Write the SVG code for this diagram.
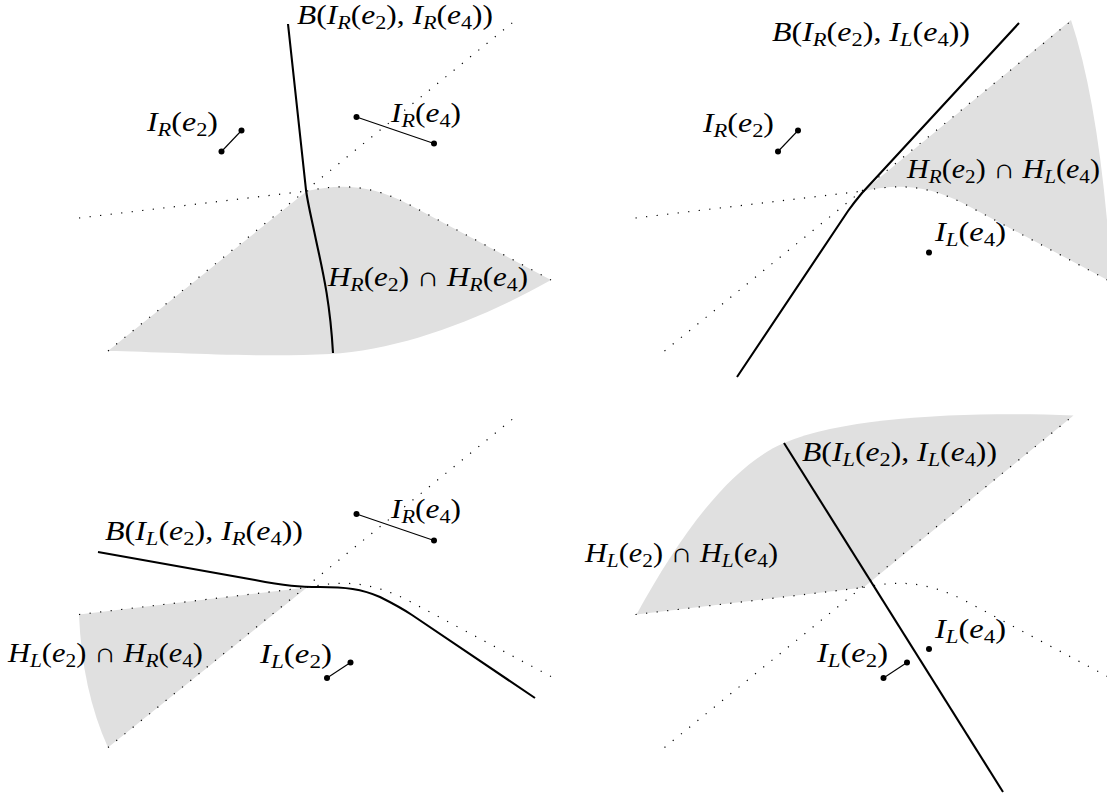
<svg xmlns="http://www.w3.org/2000/svg" xmlns:xlink="http://www.w3.org/1999/xlink" width="1107" height="797" viewBox="0 0 1107 797">
<style>
.fill{fill:#e0e0e0;stroke:none}
.dot{fill:none;stroke:#000;stroke-width:1.2;stroke-dasharray:1.2 9.4}
.thick{fill:none;stroke:#000;stroke-width:2.1;stroke-linejoin:round}
.seg{stroke:#000;stroke-width:1.1}
.pt{fill:#000}
.t{font-family:"Liberation Serif","DejaVu Serif",serif;font-size:27px;fill:#000}
.i{font-style:italic}
.s{font-size:19px}
</style>
<defs>
<g id="skel">
<path class="dot" d="M79,218 L307,191"/>
<path class="dot" d="M108,351 L517,19"/>
<path class="dot" d="M307,191 C340,184 370,184 410,205 L551,280"/>
</g>
</defs>

<g id="panel-rr">
<path class="fill" d="M108,351 L307,191 C340,184 370,184 410,205 L551,280 C480,320 400,350 330,354 C260,358 170,352 108,351 Z"/>
<use xlink:href="#skel"/>
<path class="thick" d="M288,24 L306,190 C308,205 312,220 316,240 C322,268 330,300 333,353"/>
<line class="seg" x1="221.5" y1="151.5" x2="241.5" y2="130.5"/>
<circle class="pt" cx="221.5" cy="151.5" r="3"/><circle class="pt" cx="241.5" cy="130.5" r="3"/>
<line class="seg" x1="356.5" y1="117" x2="434" y2="143.5"/>
<circle class="pt" cx="356.5" cy="117" r="3"/><circle class="pt" cx="434" cy="143.5" r="3"/>
<text class="t" x="297" y="24" textLength="196" lengthAdjust="spacingAndGlyphs"><tspan class="i">B</tspan>(<tspan class="i">I</tspan><tspan class="i s" dy="5">R</tspan><tspan dy="-5">(</tspan><tspan class="i">e</tspan><tspan class="s" dy="5">2</tspan><tspan dy="-5">), </tspan><tspan class="i">I</tspan><tspan class="i s" dy="5">R</tspan><tspan dy="-5">(</tspan><tspan class="i">e</tspan><tspan class="s" dy="5">4</tspan><tspan dy="-5">))</tspan></text>
<text class="t" x="147" y="131" textLength="71" lengthAdjust="spacingAndGlyphs"><tspan class="i">I</tspan><tspan class="i s" dy="5">R</tspan><tspan dy="-5">(</tspan><tspan class="i">e</tspan><tspan class="s" dy="5">2</tspan><tspan dy="-5">)</tspan></text>
<text class="t" x="391" y="122" textLength="70" lengthAdjust="spacingAndGlyphs"><tspan class="i">I</tspan><tspan class="i s" dy="5">R</tspan><tspan dy="-5">(</tspan><tspan class="i">e</tspan><tspan class="s" dy="5">4</tspan><tspan dy="-5">)</tspan></text>
<text class="t" x="328" y="286" textLength="200" lengthAdjust="spacingAndGlyphs"><tspan class="i">H</tspan><tspan class="i s" dy="5">R</tspan><tspan dy="-5">(</tspan><tspan class="i">e</tspan><tspan class="s" dy="5">2</tspan><tspan dy="-5">) ∩ </tspan><tspan class="i">H</tspan><tspan class="i s" dy="5">R</tspan><tspan dy="-5">(</tspan><tspan class="i">e</tspan><tspan class="s" dy="5">4</tspan><tspan dy="-5">)</tspan></text>
</g>

<g id="panel-rl">
<path class="fill" d="M863.5,191 L1071,20 Q1101,110 1112,285 L1107.5,280 L966.5,205 C926.5,184 896.5,184 863.5,191 Z"/>
<use xlink:href="#skel" transform="translate(556.5,0)"/>
<path class="thick" d="M1019,23 L862,193 C857,199 853,204 848,211 L737,377"/>
<line class="seg" x1="778" y1="151.5" x2="798" y2="130.5"/>
<circle class="pt" cx="778" cy="151.5" r="3"/><circle class="pt" cx="798" cy="130.5" r="3"/>
<circle class="pt" cx="929" cy="252.5" r="3"/>
<text class="t" x="772" y="41" textLength="198" lengthAdjust="spacingAndGlyphs"><tspan class="i">B</tspan>(<tspan class="i">I</tspan><tspan class="i s" dy="5">R</tspan><tspan dy="-5">(</tspan><tspan class="i">e</tspan><tspan class="s" dy="5">2</tspan><tspan dy="-5">), </tspan><tspan class="i">I</tspan><tspan class="i s" dy="5">L</tspan><tspan dy="-5">(</tspan><tspan class="i">e</tspan><tspan class="s" dy="5">4</tspan><tspan dy="-5">))</tspan></text>
<text class="t" x="703" y="132" textLength="71" lengthAdjust="spacingAndGlyphs"><tspan class="i">I</tspan><tspan class="i s" dy="5">R</tspan><tspan dy="-5">(</tspan><tspan class="i">e</tspan><tspan class="s" dy="5">2</tspan><tspan dy="-5">)</tspan></text>
<text class="t" x="907" y="178" textLength="193" lengthAdjust="spacingAndGlyphs"><tspan class="i">H</tspan><tspan class="i s" dy="5">R</tspan><tspan dy="-5">(</tspan><tspan class="i">e</tspan><tspan class="s" dy="5">2</tspan><tspan dy="-5">) ∩ </tspan><tspan class="i">H</tspan><tspan class="i s" dy="5">L</tspan><tspan dy="-5">(</tspan><tspan class="i">e</tspan><tspan class="s" dy="5">4</tspan><tspan dy="-5">)</tspan></text>
<text class="t" x="935" y="241" textLength="71" lengthAdjust="spacingAndGlyphs"><tspan class="i">I</tspan><tspan class="i s" dy="5">L</tspan><tspan dy="-5">(</tspan><tspan class="i">e</tspan><tspan class="s" dy="5">4</tspan><tspan dy="-5">)</tspan></text>
</g>

<g id="panel-lr">
<path class="fill" d="M79,614.5 L307,587.5 L108,747.5 Q82,690 79,614.5 Z"/>
<use xlink:href="#skel" transform="translate(0,396.5)"/>
<path class="thick" d="M98,552 L255,580 C285,586 300,587 320,587 C345,587 362,589 380,597 C392,603 400,607 412,615 L535,698"/>
<line class="seg" x1="356.5" y1="514" x2="434" y2="540.5"/>
<circle class="pt" cx="356.5" cy="514" r="3"/><circle class="pt" cx="434" cy="540.5" r="3"/>
<line class="seg" x1="327" y1="678" x2="350.5" y2="662.5"/>
<circle class="pt" cx="327" cy="678" r="3"/><circle class="pt" cx="350.5" cy="662.5" r="3"/>
<text class="t" x="105" y="540" textLength="198" lengthAdjust="spacingAndGlyphs"><tspan class="i">B</tspan>(<tspan class="i">I</tspan><tspan class="i s" dy="5">L</tspan><tspan dy="-5">(</tspan><tspan class="i">e</tspan><tspan class="s" dy="5">2</tspan><tspan dy="-5">), </tspan><tspan class="i">I</tspan><tspan class="i s" dy="5">R</tspan><tspan dy="-5">(</tspan><tspan class="i">e</tspan><tspan class="s" dy="5">4</tspan><tspan dy="-5">))</tspan></text>
<text class="t" x="391" y="518" textLength="70" lengthAdjust="spacingAndGlyphs"><tspan class="i">I</tspan><tspan class="i s" dy="5">R</tspan><tspan dy="-5">(</tspan><tspan class="i">e</tspan><tspan class="s" dy="5">4</tspan><tspan dy="-5">)</tspan></text>
<text class="t" x="8" y="662" textLength="195" lengthAdjust="spacingAndGlyphs"><tspan class="i">H</tspan><tspan class="i s" dy="5">L</tspan><tspan dy="-5">(</tspan><tspan class="i">e</tspan><tspan class="s" dy="5">2</tspan><tspan dy="-5">) ∩ </tspan><tspan class="i">H</tspan><tspan class="i s" dy="5">R</tspan><tspan dy="-5">(</tspan><tspan class="i">e</tspan><tspan class="s" dy="5">4</tspan><tspan dy="-5">)</tspan></text>
<text class="t" x="260" y="663" textLength="72" lengthAdjust="spacingAndGlyphs"><tspan class="i">I</tspan><tspan class="i s" dy="5">L</tspan><tspan dy="-5">(</tspan><tspan class="i">e</tspan><tspan class="s" dy="5">2</tspan><tspan dy="-5">)</tspan></text>
</g>

<g id="panel-ll">
<path class="fill" d="M636.5,614.5 L863.5,587.5 L1073.5,415.5 C980,412 850,415 784,443 C730,466 680,535 636.5,614.5 Z"/>
<use xlink:href="#skel" transform="translate(556.5,396.5)"/>
<path class="thick" d="M784,443 L1003,792"/>
<line class="seg" x1="883.5" y1="678" x2="907" y2="662.5"/>
<circle class="pt" cx="883.5" cy="678" r="3"/><circle class="pt" cx="907" cy="662.5" r="3"/>
<circle class="pt" cx="929" cy="649" r="3"/>
<text class="t" x="802" y="461" textLength="195" lengthAdjust="spacingAndGlyphs"><tspan class="i">B</tspan>(<tspan class="i">I</tspan><tspan class="i s" dy="5">L</tspan><tspan dy="-5">(</tspan><tspan class="i">e</tspan><tspan class="s" dy="5">2</tspan><tspan dy="-5">), </tspan><tspan class="i">I</tspan><tspan class="i s" dy="5">L</tspan><tspan dy="-5">(</tspan><tspan class="i">e</tspan><tspan class="s" dy="5">4</tspan><tspan dy="-5">))</tspan></text>
<text class="t" x="585" y="562" textLength="193" lengthAdjust="spacingAndGlyphs"><tspan class="i">H</tspan><tspan class="i s" dy="5">L</tspan><tspan dy="-5">(</tspan><tspan class="i">e</tspan><tspan class="s" dy="5">2</tspan><tspan dy="-5">) ∩ </tspan><tspan class="i">H</tspan><tspan class="i s" dy="5">L</tspan><tspan dy="-5">(</tspan><tspan class="i">e</tspan><tspan class="s" dy="5">4</tspan><tspan dy="-5">)</tspan></text>
<text class="t" x="817" y="662" textLength="71" lengthAdjust="spacingAndGlyphs"><tspan class="i">I</tspan><tspan class="i s" dy="5">L</tspan><tspan dy="-5">(</tspan><tspan class="i">e</tspan><tspan class="s" dy="5">2</tspan><tspan dy="-5">)</tspan></text>
<text class="t" x="935" y="638" textLength="71" lengthAdjust="spacingAndGlyphs"><tspan class="i">I</tspan><tspan class="i s" dy="5">L</tspan><tspan dy="-5">(</tspan><tspan class="i">e</tspan><tspan class="s" dy="5">4</tspan><tspan dy="-5">)</tspan></text>
</g>
</svg>
